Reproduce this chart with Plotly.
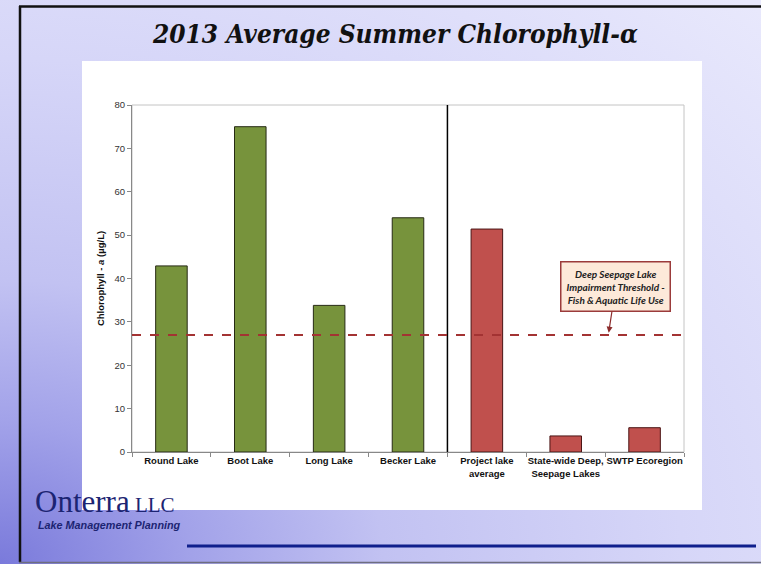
import base64
import plotly.graph_objects as go

# ---------------- data ----------------
categories = ["Round Lake", "Boot Lake", "Long Lake", "Becker Lake",
              "Project lake<br>average", "State-wide Deep,<br>Seepage Lakes", "SWTP Ecoregion"]
lake_values = [42.9, 75.0, 33.8, 54.0]
reference_values = [51.4, 3.7, 5.6]
threshold = 27.0
y_ticks = [0, 10, 20, 30, 40, 50, 60, 70, 80]
title_text = "2013 Average Summer Chlorophyll-α"
y_title = "Chlorophyll - <i>a</i> (µg/L)"
note_text = "Deep Seepage Lake<br>Impairment Threshold -<br>Fish & Aquatic Life Use"

# ---------------- geometry helpers ----------------
W, H = 761, 564
L, R, T, B = 132, 684, 105, 452
pw, ph = R - L, B - T


def px(x):
    return (x - L) / pw


def py(y):
    return (B - y) / ph


# background gradient as SVG
svg = f"""<svg xmlns='http://www.w3.org/2000/svg' width='{W}' height='{H}' preserveAspectRatio='none' viewBox='0 0 {W} {H}'>
<defs><radialGradient id='g' cx='0' cy='1' r='1.4' gradientUnits='objectBoundingBox'>
<stop offset='0' stop-color='#7a7adb'/>
<stop offset='0.18' stop-color='#a2a2e9'/>
<stop offset='0.36' stop-color='#c2c2f2'/>
<stop offset='0.64' stop-color='#d6d6f8'/>
<stop offset='1' stop-color='#e8e8fc'/>
</radialGradient></defs>
<rect x='0' y='0' width='{W}' height='{H}' fill='url(#g)'/>
</svg>"""
svg_uri = "data:image/svg+xml;base64," + base64.b64encode(svg.encode()).decode()

fig = go.Figure()

fig.add_trace(go.Bar(
    x=categories[:4], y=lake_values,
    marker=dict(color="#77933c", line=dict(color="#262a14", width=1)),
    width=0.4, showlegend=False, hoverinfo="x+y",
))
fig.add_trace(go.Bar(
    x=categories[4:], y=reference_values,
    marker=dict(color="#c0504d", line=dict(color="#4a1414", width=1)),
    width=0.4, showlegend=False, hoverinfo="x+y",
))

shapes = [
    # white panel
    dict(type="rect", xref="paper", yref="paper", x0=px(82), x1=px(702), y0=py(510), y1=py(61),
         fillcolor="white", line=dict(width=0), layer="below"),
    # plot frame (light gray)
    dict(type="rect", xref="paper", yref="paper", x0=0, x1=1, y0=0, y1=1,
         line=dict(color="#c4c4c4", width=1), layer="below"),
    # separator
    dict(type="line", xref="x", yref="paper", x0=3.5, x1=3.5, y0=0, y1=1,
         line=dict(color="black", width=1.5)),
    # threshold line
    dict(type="line", xref="paper", yref="y", x0=0, x1=1, y0=threshold, y1=threshold,
         line=dict(color="#a33333", width=2, dash="dash")),
    # slide borders
    dict(type="line", xref="paper", yref="paper", x0=px(19), x1=px(761), y0=py(6.5), y1=py(6.5),
         line=dict(color="#111111", width=2.5)),
    dict(type="line", xref="paper", yref="paper", x0=px(20), x1=px(20), y0=py(6), y1=py(562),
         line=dict(color="#111111", width=2.5)),
    dict(type="line", xref="paper", yref="paper", x0=px(19), x1=px(761), y0=py(562.5), y1=py(562.5),
         line=dict(color="#6e6e80", width=1.5)),
    # footer blue line
    dict(type="line", xref="paper", yref="paper", x0=px(187), x1=px(756), y0=py(546), y1=py(546),
         line=dict(color="#0f1f8c", width=3)),
]

annotations = [
    dict(text=f"<b><i>{title_text}</i></b>", xref="paper", yref="paper", x=px(395), y=py(34),
         showarrow=False, font=dict(family="DejaVu Serif Condensed, serif", size=26, color="#111111"),
         xanchor="center", yanchor="middle"),
    dict(text=f"<b><i>{note_text}</i></b>", x=5.545, y=27.5, xref="x", yref="y",
         ax=7, ay=-46, axref="pixel", ayref="pixel",
         showarrow=True, arrowhead=2, arrowsize=1, arrowwidth=1.2, arrowcolor="#8b2b2b",
         bgcolor="#fde9d9", bordercolor="#9b3b3b", borderwidth=1.5, borderpad=5,
         font=dict(family="Lato, sans-serif", size=10, color="#222222"), align="center"),
    dict(text="Onterra<span style='font-size:21px'> LLC</span>", xref="paper", yref="paper",
         x=px(33), y=py(501), xanchor="left", yanchor="middle", showarrow=False,
         font=dict(family="Liberation Serif, serif", size=31, color="#1c2472")),
    dict(text="<b><i>Lake Management Planning</i></b>", xref="paper", yref="paper",
         x=px(36), y=py(525), xanchor="left", yanchor="middle", showarrow=False,
         font=dict(family="Liberation Sans Narrow, Arial, sans-serif", size=10.8, color="#1c2472")),
]

fig.update_layout(
    width=W, height=H,
    margin=dict(l=L, r=W - R, t=T, b=H - B),
    paper_bgcolor="#d4d4f8", plot_bgcolor="white",
    bargap=0.6,
    shapes=shapes, annotations=annotations,
    images=[dict(source=svg_uri, xref="paper", yref="paper", x=px(0), y=py(0),
                 sizex=W / pw, sizey=H / ph, sizing="stretch", layer="below",
                 xanchor="left", yanchor="top")],
    font=dict(family="Arial, Liberation Sans, sans-serif"),
)

fig.update_xaxes(
    categoryorder="array", categoryarray=categories,
    tickangle=0,
    tickfont=dict(size=9.5, color="#111111", family="Arial, Liberation Sans, sans-serif"),
    ticks="outside", tickson="boundaries", ticklen=4, tickcolor="#888888",
    showline=True, linecolor="#888888", linewidth=1, showgrid=False,
    tickprefix="<b>", ticksuffix="</b>",
)
fig.update_yaxes(
    range=[0, 80], tickvals=y_ticks, showgrid=False, zeroline=False,
    ticks="outside", ticklen=4, tickcolor="#888888",
    showline=True, linecolor="#888888", linewidth=1,
    tickfont=dict(size=9.5, color="#333333"),
    title=dict(text=f"<b>{y_title}</b>", font=dict(size=9.5, color="#111111"), standoff=8),
)

fig.write_html("out.html", config={"displayModeBar": False},
               post_script="document.body.style.margin='0px';")
